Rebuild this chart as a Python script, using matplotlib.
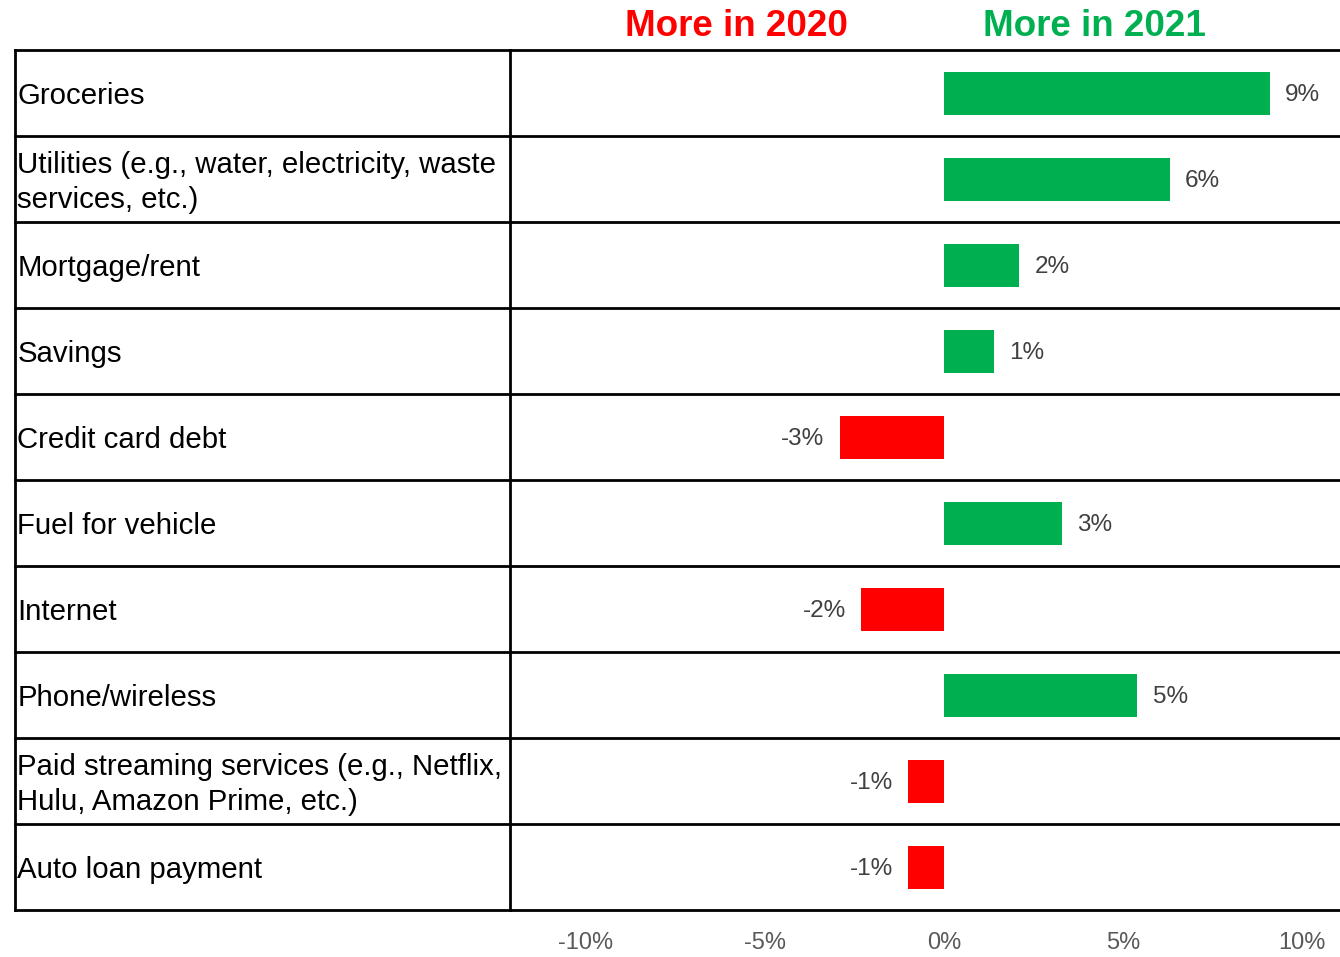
import matplotlib.pyplot as plt
from matplotlib import transforms

categories = [
    "Groceries",
    "Utilities (e.g., water, electricity, waste\nservices, etc.)",
    "Mortgage/rent",
    "Savings",
    "Credit card debt",
    "Fuel for vehicle",
    "Internet",
    "Phone/wireless",
    "Paid streaming services (e.g., Netflix,\nHulu, Amazon Prime, etc.)",
    "Auto loan payment",
]
# difference in share of spending, 2021 minus 2020 (%)
values = [9.1, 6.3, 2.1, 1.4, -2.9, 3.3, -2.3, 5.4, -1.0, -1.0]
ticks = [-10, -5, 0, 5, 10]

GREEN = "#00b050"
RED = "#ff0000"

plt.rcParams['font.family'] = ['Liberation Sans', 'DejaVu Sans']

W, H = 1340, 957
fig = plt.figure(figsize=(W / 100, H / 100), dpi=100)
ax = fig.add_axes([510 / W, 47 / H, 830 / W, 860 / H])

n = len(categories)
colors = [GREEN if v >= 0 else RED for v in values]
ax.barh(range(n), values, height=0.5, color=colors, zorder=3)
ax.set_ylim(n - 0.5, -0.5)
ax.set_xlim(-12.1, 11.05)

for i, v in enumerate(values):
    off = 11 if v >= 0 else -11
    ax.annotate(f"{v:.0f}%", (v, i), xytext=(off, -1.5), textcoords="offset points",
                ha="left" if v >= 0 else "right", va="center",
                fontsize=17.5, color="#404040")

# table grid: left column + chart column
left = (15 - 510) / 830
lw = 2.0
tr = transforms.blended_transform_factory(ax.transAxes, ax.transData)
for b in [k - 0.5 for k in range(n + 1)]:
    ax.plot([left, 1], [b, b], color="black", lw=lw, clip_on=False, transform=tr)
ax.plot([left, left], [0, 1], color="black", lw=lw, clip_on=False, transform=ax.transAxes)
ax.plot([0, 0], [0, 1], color="black", lw=lw, clip_on=False, transform=ax.transAxes)

# row labels, nudged down a little so the cap height sits mid-row
shift = transforms.ScaledTranslation(0, -0.035, fig.dpi_scale_trans)
for i, cat in enumerate(categories):
    ax.text(left + 0.003, i, cat, transform=tr + shift, ha="left", va="center",
            fontsize=21.2, color="black", linespacing=1.32)

for s in ax.spines.values():
    s.set_visible(False)
ax.set_yticks([])
ax.set_xticks(ticks)
ax.set_xticklabels([f"{t}%" for t in ticks])
ax.tick_params(axis="x", length=0, pad=16, labelsize=17, labelcolor="#595959")

fig.text(736 / W, 1 - 26 / H, "More in 2020", color=RED, fontsize=26.5,
         fontweight="bold", ha="center", va="center")
fig.text(1094 / W, 1 - 26 / H, "More in 2021", color=GREEN, fontsize=26.5,
         fontweight="bold", ha="center", va="center")

fig.savefig("out.png", dpi=100)
